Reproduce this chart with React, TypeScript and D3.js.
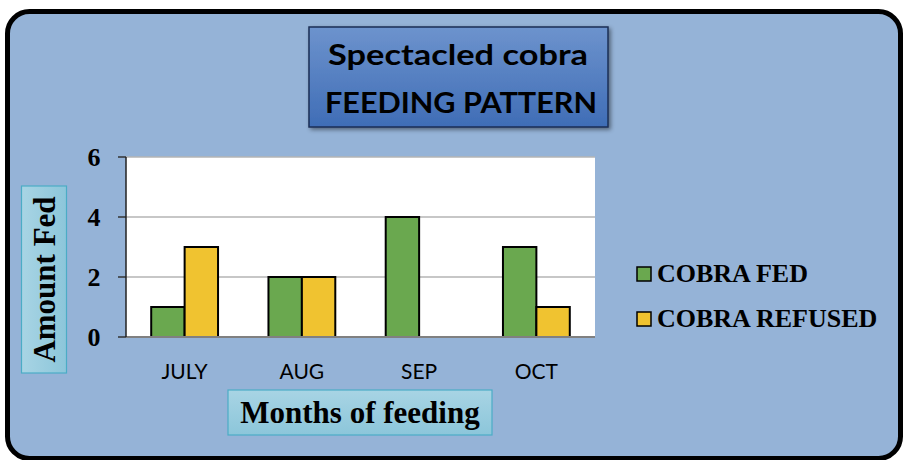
import React from "react";
import * as d3 from "d3";

const months = ["JULY", "AUG", "SEP", "OCT"];
const cobraFed = [1, 2, 4, 3];
const cobraRefused = [3, 2, 0, 1];
const seriesNames = ["COBRA FED", "COBRA REFUSED"];
const seriesColors = ["#6aa84f", "#f0c330"];
const yTicks = [0, 2, 4, 6];

const W = 903;
const H = 460;
const plot = { x0: 126, x1: 595, y0: 157, y1: 337 };

export default function App() {
  const x = d3
    .scaleBand<string>()
    .domain(months)
    .range([plot.x0, plot.x1])
    .paddingInner(0.43)
    .paddingOuter(0.215);
  const x1 = d3.scaleBand<number>().domain([0, 1]).range([0, x.bandwidth()]);
  const y = d3.scaleLinear().domain([0, 6]).range([plot.y1, plot.y0]);
  const series = [cobraFed, cobraRefused];

  return (
    <svg
      width={W}
      height={H}
      style={{ position: "absolute", left: 0, top: 0 }}
    >
      <defs>
        <linearGradient id="titleGrad" x1="0" y1="0" x2="0" y2="1">
          <stop offset="0" stopColor="#6d93cd" />
          <stop offset="1" stopColor="#3f6db6" />
        </linearGradient>
        <linearGradient id="labGrad" x1="0" y1="0" x2="0" y2="1">
          <stop offset="0" stopColor="#a8d4e4" />
          <stop offset="1" stopColor="#8cc6da" />
        </linearGradient>
        <linearGradient id="labGradH" x1="0" y1="0" x2="1" y2="0">
          <stop offset="0" stopColor="#a8d4e4" />
          <stop offset="1" stopColor="#8cc6da" />
        </linearGradient>
        <filter id="shadow" x="-10%" y="-10%" width="130%" height="130%">
          <feDropShadow dx="2" dy="2" stdDeviation="2" floodColor="#000" floodOpacity="0.45" />
        </filter>
      </defs>
      <rect x={0} y={0} width={W} height={H} fill="#ffffff" />
      <rect
        x={7.5}
        y={11.5}
        width={893}
        height={447}
        rx={22}
        ry={22}
        fill="#95b3d7"
        stroke="#000"
        strokeWidth={5}
      />

      {/* Title box */}
      <rect
        x={309}
        y={27}
        width={299}
        height={100}
        fill="url(#titleGrad)"
        stroke="#1b2f55"
        strokeWidth={1.5}
        filter="url(#shadow)"
      />
      <text
        x={458}
        y={65}
        textAnchor="middle"
        fontFamily="Lato, 'Open Sans', sans-serif"
        fontWeight="bold"
        fontSize={29}
        fill="#000"
        textLength={260}
        lengthAdjust="spacingAndGlyphs"
      >
        Spectacled cobra
      </text>
      <text
        x={461}
        y={113}
        textAnchor="middle"
        fontFamily="Lato, 'Open Sans', sans-serif"
        fontWeight="bold"
        fontSize={29}
        fill="#000"
        textLength={272}
        lengthAdjust="spacingAndGlyphs"
      >
        FEEDING PATTERN
      </text>

      {/* Plot area */}
      <rect
        x={plot.x0}
        y={plot.y0}
        width={plot.x1 - plot.x0}
        height={plot.y1 - plot.y0}
        fill="#ffffff"
      />
      {yTicks.map((t) => (
        <g key={t}>
          {t > 0 && (
            <line
              x1={plot.x0}
              x2={plot.x1}
              y1={y(t)}
              y2={y(t)}
              stroke="#b4b4b4"
              strokeWidth={1.5}
            />
          )}
          <line
            x1={plot.x0 - 8}
            x2={plot.x0}
            y1={y(t)}
            y2={y(t)}
            stroke="#333"
            strokeWidth={1.5}
          />
          <text
            x={94}
            y={y(t) + 9}
            textAnchor="middle"
            fontFamily="'Liberation Serif', 'Times New Roman', serif"
            fontWeight="bold"
            fontSize={26}
            fill="#000"
          >
            {t}
          </text>
        </g>
      ))}

      {/* Bars */}
      {months.map((m, i) => (
        <g key={m}>
          {series.map((s, j) =>
            s[i] > 0 ? (
              <rect
                key={j}
                x={(x(m) as number) + (x1(j) as number)}
                y={y(s[i])}
                width={x1.bandwidth()}
                height={y(0) - y(s[i])}
                fill={seriesColors[j]}
                stroke="#000"
                strokeWidth={2}
              />
            ) : null
          )}
          <text
            x={(x(m) as number) + x.bandwidth() / 2}
            y={379}
            textAnchor="middle"
            fontFamily="Lato, 'Open Sans', sans-serif"
            fontSize={21}
            fill="#000"
          >
            {m}
          </text>
        </g>
      ))}

      {/* Axes lines */}
      <line
        x1={plot.x0}
        x2={plot.x1}
        y1={plot.y1}
        y2={plot.y1}
        stroke="#808080"
        strokeWidth={2}
      />
      <line
        x1={plot.x0}
        x2={plot.x0}
        y1={plot.y0}
        y2={plot.y1}
        stroke="#222"
        strokeWidth={1.5}
      />

      {/* Y axis title */}
      <rect
        x={21.5}
        y={186}
        width={45}
        height={187}
        fill="url(#labGradH)"
        stroke="#4bacc6"
        strokeWidth={1.2}
      />
      <text
        transform={`translate(55, ${279.5}) rotate(-90)`}
        textAnchor="middle"
        fontFamily="'Liberation Serif', 'Times New Roman', serif"
        fontWeight="bold"
        fontSize={31}
        fill="#000"
      >
        Amount Fed
      </text>

      {/* X axis title */}
      <rect
        x={228}
        y={390}
        width={264}
        height={45}
        fill="url(#labGrad)"
        stroke="#4bacc6"
        strokeWidth={1.2}
      />
      <text
        x={360}
        y={423}
        textAnchor="middle"
        fontFamily="'Liberation Serif', 'Times New Roman', serif"
        fontWeight="bold"
        fontSize={31}
        fill="#000"
      >
        Months of feeding
      </text>

      {/* Legend */}
      {seriesNames.map((n, j) => (
        <g key={n} transform={`translate(637, ${267 + j * 45})`}>
          <rect
            x={0}
            y={0}
            width={14}
            height={14}
            fill={seriesColors[j]}
            stroke="#000"
            strokeWidth={1.5}
          />
          <text
            x={20}
            y={15}
            fontFamily="'Liberation Serif', 'Times New Roman', serif"
            fontWeight="bold"
            fontSize={26}
            fill="#000"
          >
            {n}
          </text>
        </g>
      ))}
    </svg>
  );
}
